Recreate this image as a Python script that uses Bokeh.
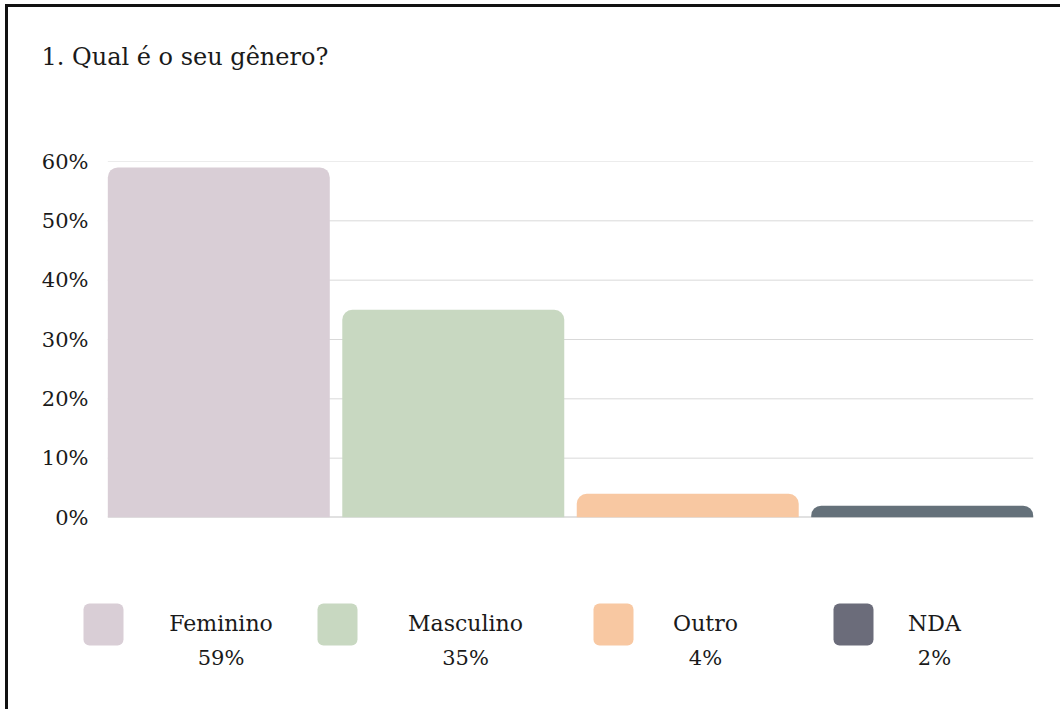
from bokeh.plotting import figure
from bokeh.models import Range1d, FixedTicker, PrintfTickFormatter, ColumnDataSource, Spacer
from bokeh.layouts import column, row
from bokeh.embed import file_html
from bokeh.resources import INLINE
from bokeh.core.properties import value

# ---- data ----
title_text = "1. Qual é o seu gênero?"
categories = ["Feminino", "Masculino", "Outro", "NDA"]
percentages = [59, 35, 4, 2]
bar_colors = ["#D9CED6", "#C8D8C1", "#F8C8A2", "#65717A"]
swatch_colors = ["#D9CED6", "#C8D8C1", "#F8C8A2", "#6B6C7A"]
y_ticks = [0, 10, 20, 30, 40, 50, 60]

FONT = "DejaVu Serif"
TEXT = "#1a1a1a"

# common horizontal geometry (all panels share the same frame: page x 78 -> 1060)
W = 1052
BL = 70
BR = 0

# ---- header with title ----
hd = figure(width=W, height=110, output_backend="svg", toolbar_location=None,
            x_range=Range1d(0, 1), y_range=Range1d(0, 1),
            x_axis_type=None, y_axis_type=None,
            min_border_left=BL, min_border_right=BR, min_border_top=0, min_border_bottom=0)
hd.outline_line_color = None
hd.grid.visible = False
hd.title.text = title_text
hd.title.text_font = FONT
hd.title.text_font_size = "24px"
hd.title.text_font_style = "normal"
hd.title.text_color = TEXT
hd.title.align = "left"
hd.title.offset = -37
hd.title.standoff = 66

# ---- bars ----
bar_w = 0.9467
px_per_cat = 234.47
first_center_px = 140.3          # distance of first bar centre from frame left
frame_px = 982.0
x_start = 0.5 - first_center_px / px_per_cat
x_end = x_start + frame_px / px_per_cat
xs = [i + 0.5 for i in range(len(categories))]
src = ColumnDataSource(dict(x=xs, top=percentages, color=bar_colors, cat=categories))

p = figure(width=W, height=443, output_backend="svg", toolbar_location=None,
           x_range=Range1d(x_start, x_end), y_range=Range1d(0, 60),
           min_border_left=BL, min_border_right=BR, min_border_top=44, min_border_bottom=43)
p.outline_line_color = None
p.xaxis.visible = False
p.grid.visible = False

p.yaxis.ticker = FixedTicker(ticks=y_ticks)
p.yaxis.formatter = PrintfTickFormatter(format="%d%%")
p.yaxis.axis_line_color = None
p.yaxis.major_tick_line_color = None
p.yaxis.minor_tick_line_color = None
p.yaxis.major_tick_out = 0
p.yaxis.major_tick_in = 0
p.yaxis.major_label_text_font = FONT
p.yaxis.major_label_text_font_size = "21px"
p.yaxis.major_label_text_color = TEXT
p.yaxis.major_label_standoff = -10

# horizontal grid lines spanning the bar area only
gx0 = xs[0] - bar_w / 2
gx1 = xs[-1] + bar_w / 2
p.segment(x0=[gx0] * (len(y_ticks) - 1), x1=[gx1] * (len(y_ticks) - 1),
          y0=y_ticks[1:], y1=y_ticks[1:], line_color="#d9d9d9", line_width=1)
p.segment(x0=[gx0], x1=[gx1], y0=[0], y1=[0], line_color="#c4c4c4", line_width=2)

p.vbar(x="x", top="top", bottom=0, width=bar_w, fill_color="color", line_color=None,
       border_radius=(10, 10, 0, 0), source=src)

# ---- legend (separate panel, page-pixel coordinates) ----
lg = figure(width=W, height=149, output_backend="svg", toolbar_location=None,
            x_range=Range1d(78, 1060), y_range=Range1d(709, 560),
            x_axis_type=None, y_axis_type=None,
            min_border_left=BL, min_border_right=BR, min_border_top=0, min_border_bottom=0)
lg.outline_line_color = None
lg.grid.visible = False

swatch_left = [83, 317, 593, 833]
label_cx = [220.5, 465, 705, 934]
lsrc = ColumnDataSource(dict(
    left=swatch_left, right=[v + 40 for v in swatch_left],
    color=swatch_colors, cx=label_cx, name=categories,
    pct=[f"{v}%" for v in percentages]))

lg.quad(left="left", right="right", top=603, bottom=645, fill_color="color",
        line_color=None, border_radius=6, source=lsrc)
lg.text(x="cx", y=623, text="name", source=lsrc, text_font=value(FONT),
        text_font_size="22px", text_align="center", text_baseline="alphabetic",
        text_color=TEXT)
lg.text(x="cx", y=657, text="pct", source=lsrc, text_font=value(FONT),
        text_font_size="21px", text_align="center", text_baseline="alphabetic",
        text_color=TEXT)

inner = column(hd, p, lg, spacing=0,
               styles={"border-left": "3px solid #111", "border-top": "3px solid #111"})
layout = row(Spacer(width=5), column(Spacer(height=4), inner, spacing=0), spacing=0)

open("out.html", "w").write(file_html(layout, INLINE))
